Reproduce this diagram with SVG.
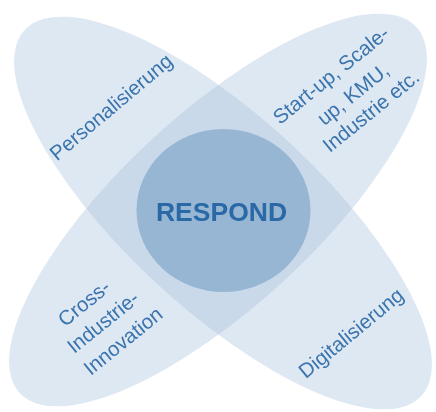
<svg xmlns="http://www.w3.org/2000/svg" width="436" height="412" viewBox="0 0 436 412">
<defs><filter id="soft" x="-5%" y="-5%" width="110%" height="110%"><feGaussianBlur stdDeviation="0.55"/></filter></defs>
<style>
.petal{fill:#a9c3dc;fill-opacity:.38}
.hub{fill:#97b6d3}
text{font-family:"Liberation Sans",Arial,sans-serif;fill:#3a74ae;text-anchor:middle}
.l{font-size:20.5px}
.c{font-size:26.5px;font-weight:bold;fill:#2a68a6}
</style>
<rect width="436" height="412" fill="#fff"/>
<g filter="url(#soft)">
<g id="petal-personalisierung"><ellipse class="petal" rx="278" ry="100" transform="translate(223 213) scale(1 .94) rotate(45)"/><text class="l" transform="translate(111 107) rotate(-40) translate(0 7)">Personalisierung</text></g>
<g id="petal-startup"><ellipse class="petal" rx="278" ry="100" transform="translate(218 210) scale(1 .94) rotate(-45)"/>
<text class="l" transform="translate(331 75) rotate(-39) translate(0 7)">Start-up, Scale-</text>
<text class="l" transform="translate(353 94) rotate(-39) translate(0 7)">up, KMU,</text>
<text class="l" transform="translate(371 111) rotate(-39) translate(0 7)">Industrie etc.</text></g>
<g id="petal-cross">
<text class="l" transform="translate(84 303) rotate(-39) translate(0 7)">Cross-</text>
<text class="l" transform="translate(103 322) rotate(-39) translate(0 7)">Industrie-</text>
<text class="l" transform="translate(123 341) rotate(-39) translate(0 7)">Innovation</text></g>
<g id="petal-digitalisierung"><text class="l" transform="translate(351 333) rotate(-39.5) translate(0 7)">Digitalisierung</text></g>
<g id="hub-respond"><ellipse class="hub" cx="223.5" cy="210.5" rx="87" ry="81.5"/><text class="c" x="221.5" y="221">RESPOND</text></g>
</g>
</svg>
